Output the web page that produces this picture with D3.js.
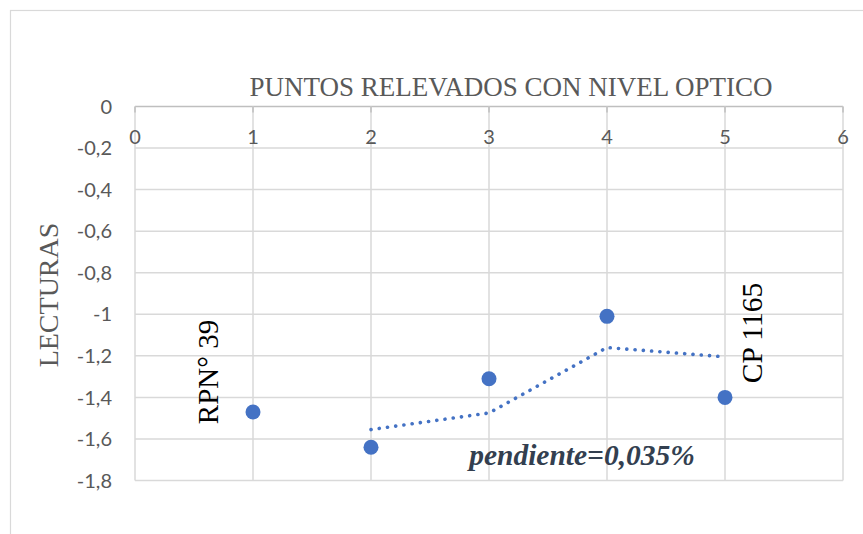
<!DOCTYPE html>
<html><head><meta charset="utf-8">
<script src="https://cdn.jsdelivr.net/npm/d3@7"></script>
<style>html,body{margin:0;padding:0;background:#fff;}svg{display:block;}</style>
</head><body>
<svg id="c" width="863" height="534"></svg>
<script>
const xValues = [1, 2, 3, 4, 5];
const yValues = [-1.47, -1.64, -1.31, -1.01, -1.40];
const trendX = [2, 3, 4, 5];
const trendY = [-1.555, -1.475, -1.16, -1.205];
const xTicks = [0, 1, 2, 3, 4, 5, 6];
const yTicks = [0, -0.2, -0.4, -0.6, -0.8, -1, -1.2, -1.4, -1.6, -1.8];
const title = "PUNTOS RELEVADOS CON NIVEL OPTICO";
const yTitle = "LECTURAS";
const labelStart = "RPN° 39";
const labelEnd = "CP 1165";
const slopeText = "pendiente=0,035%";

const svg = d3.select("#c");
const L = 135, R = 843, T = 106.5, B = 480.5;
const x = d3.scaleLinear().domain([0, 6]).range([L, R]);
const y = d3.scaleLinear().domain([0, -1.8]).range([T, B]);
const fmt = v => String(v).replace(".", ",");

// outer chart border
svg.append("rect").attr("x", 10.5).attr("y", 10.5).attr("width", 900).attr("height", 600)
  .attr("fill", "none").attr("stroke", "#d9d9d9").attr("stroke-width", 1.2);

// gridlines
const g = svg.append("g");
g.selectAll(".hy").data(yTicks).join("line")
  .attr("x1", L).attr("x2", R).attr("y1", d => y(d)).attr("y2", d => y(d))
  .attr("stroke", d => d === 0 ? "#bfbfbf" : "#d9d9d9").attr("stroke-width", 1.5);
g.selectAll(".vx").data(xTicks).join("line")
  .attr("y1", T).attr("y2", B).attr("x1", d => x(d)).attr("x2", d => x(d))
  .attr("stroke", "#d9d9d9").attr("stroke-width", 1.5);
g.selectAll(".tk").data(xTicks).join("line")
  .attr("y1", T).attr("y2", T + 6).attr("x1", d => x(d)).attr("x2", d => x(d))
  .attr("stroke", "#bfbfbf").attr("stroke-width", 1.5);

// y tick labels
svg.append("g").selectAll("text").data(yTicks).join("text")
  .attr("x", 112).attr("y", d => y(d)).attr("dy", "0.36em")
  .attr("text-anchor", "end").attr("font-family", "Lato, sans-serif")
  .attr("font-size", 20).attr("fill", "#595959").text(fmt);

// x tick labels
svg.append("g").selectAll("text").data(xTicks).join("text")
  .attr("x", d => x(d)).attr("y", 137).attr("dy", "0.36em")
  .attr("text-anchor", "middle").attr("font-family", "Lato, sans-serif")
  .attr("font-size", 20).attr("fill", "#595959").text(d => d);

// title
svg.append("text").attr("x", 511).attr("y", 96).attr("text-anchor", "middle")
  .attr("font-family", "Liberation Serif, serif").attr("font-size", 27)
  .attr("fill", "#595959").text(title);

// y title
svg.append("text").attr("transform", "translate(58,295) rotate(-90)")
  .attr("text-anchor", "middle")
  .attr("font-family", "Liberation Serif, serif").attr("font-size", 28)
  .attr("fill", "#595959").text(yTitle);

// trendline
const line = d3.line().x((d, i) => x(trendX[i])).y(d => y(d));
svg.append("path").attr("d", line(trendY)).attr("fill", "none")
  .attr("stroke", "#4472c4").attr("stroke-width", 3.6)
  .attr("stroke-linecap", "round").attr("stroke-dasharray", "0.1 8.2");

// points
svg.append("g").selectAll("circle").data(yValues).join("circle")
  .attr("cx", (d, i) => x(xValues[i])).attr("cy", d => y(d)).attr("r", 7.5)
  .attr("fill", "#4472c4");

// annotations
svg.append("text").attr("transform", "translate(218,372) rotate(-90)")
  .attr("text-anchor", "middle")
  .attr("font-family", "Liberation Serif, serif").attr("font-size", 29)
  .attr("fill", "#000").text(labelStart);
svg.append("text").attr("transform", "translate(762,333) rotate(-90)")
  .attr("text-anchor", "middle")
  .attr("font-family", "Liberation Serif, serif").attr("font-size", 29.5)
  .attr("fill", "#000").text(labelEnd);
svg.append("text").attr("x", 582).attr("y", 465).attr("text-anchor", "middle")
  .attr("font-family", "Liberation Serif, serif").attr("font-size", 29.5)
  .attr("font-weight", "bold").attr("font-style", "italic")
  .attr("fill", "#333f50").text(slopeText);
</script>
</body></html>
